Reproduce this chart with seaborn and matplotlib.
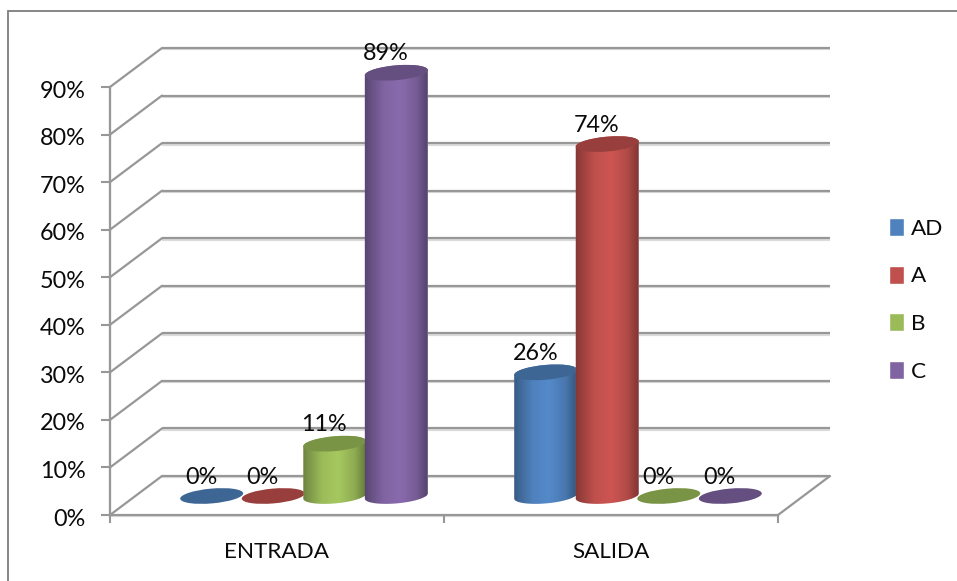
import numpy as np
import pandas as pd
import matplotlib
matplotlib.use("Agg")
import matplotlib.pyplot as plt
import matplotlib.patheffects as pe
from matplotlib.lines import Line2D
from matplotlib.patches import Polygon, Ellipse
from matplotlib.transforms import ScaledTranslation, IdentityTransform
import seaborn as sns

categories = ["ENTRADA", "SALIDA"]
series_names = ["AD", "A", "B", "C"]
series_ad = [0, 26]
series_a = [0, 74]
series_b = [11, 0]
series_c = [89, 0]
y_ticks = [0, 10, 20, 30, 40, 50, 60, 70, 80, 90]
colors = ["#4F81BD", "#C0504D", "#9BBB59", "#8064A2"]

df = pd.DataFrame({
    "cat": categories * 4,
    "serie": np.repeat(series_names, 2),
    "val": series_ad + series_a + series_b + series_c,
})

W, H, DPI = 957, 581, 100
sns.set_theme(style="ticks")
plt.rcParams["font.family"] = ["Lato", "DejaVu Sans"]
FS = 16.8
FS2 = 16.2
GRID = "#979797"
TXT = "#0a0a0a"
YMAX = 105

fig = plt.figure(figsize=(W / DPI, H / DPI), dpi=DPI, facecolor="white")
ax_h = 428 * YMAX / 90
ax = fig.add_axes([110 / W, (H - 515) / H, 668 / W, ax_h / H])
ax.set_facecolor("none")

sns.barplot(data=df, x="cat", y="val", hue="serie", hue_order=series_names,
            order=categories, palette=colors, saturation=1, width=0.737, gap=0,
            ax=ax, legend=True)
ax.set_xlim(-0.5, 1.5)
ax.set_ylim(0, YMAX)
ax.set_autoscale_on(False)
ax.set_xlabel("")
ax.set_ylabel("")
ax.set_yticks(y_ticks)
ax.set_yticklabels([f"{t}%" for t in y_ticks])
ax.set_xticks([-0.5, 0.5, 1.5], minor=True)
ax.tick_params(axis="x", which="major", length=0, pad=19.5, labelsize=FS2, labelcolor=TXT)
ax.tick_params(axis="x", which="minor", length=6, width=1.5, color=GRID)
ax.tick_params(axis="y", length=6.5, width=1.5, color=GRID, pad=11, labelsize=FS, labelcolor=TXT)
sns.despine(ax=ax)
ax.spines["left"].set_bounds(0, 90)
for s in ("left", "bottom"):
    ax.spines[s].set_color(GRID)
    ax.spines[s].set_linewidth(1.6)
    ax.spines[s].set_zorder(1)
    ax.spines[s].set_path_effects([pe.SimpleLineShadow(offset=(0, -1), shadow_color="#999999", alpha=0.35), pe.Normal()])

def shifted(dx, dy):
    return ax.transData + ScaledTranslation(dx / DPI, dy / DPI, fig.dpi_scale_trans)

for lbl in ax.get_yticklabels():
    lbl.set_transform(lbl.get_transform() + ScaledTranslation(0, -2 / DPI, fig.dpi_scale_trans))

# back wall, side wall and floor
back = shifted(52, 39)
shadow = [pe.SimpleLineShadow(offset=(0, -1), shadow_color="#999999", alpha=0.35), pe.Normal()]
ax.hlines(y_ticks, -0.5, 1.5, colors=GRID, linewidth=1.6, transform=back,
          zorder=0.5, clip_on=False, path_effects=shadow)
fig.canvas.draw()
for x, y in [(-0.5, t) for t in y_ticks] + [(1.5, 0)]:
    p0 = ax.transData.transform((x, y))
    p1 = back.transform((x, y))
    ax.add_line(Line2D([p0[0], p1[0]], [p0[1], p1[1]], color=GRID, lw=1.6,
                       transform=IdentityTransform(), zorder=0.6, clip_on=False))

# cylinders
base = shifted(27.0, 19)
A, B, THETA = 31.6, 7.4, np.deg2rad(5)

def ring(cx, cy, t):
    return np.c_[cx + A * np.cos(t) * np.cos(THETA) - B * np.sin(t) * np.sin(THETA),
                 cy + A * np.cos(t) * np.sin(THETA) + B * np.sin(t) * np.cos(THETA)]

def shade(hex_color, f):
    return np.array(matplotlib.colors.to_rgb(hex_color)) * f

xs = np.linspace(0, 1, 128)
profile = np.interp(xs, [0, 0.08, 0.3, 0.55, 0.8, 1], [0.68, 0.78, 1.0, 1.07, 0.92, 0.62])
z = 2.0
bars = []
for i, cont in enumerate(ax.containers):
    for bar in cont:
        bars.append((bar.get_x(), i, bar))
bars.sort(key=lambda b: b[0])
for _, i, bar in bars:
    col = colors[i]
    xc = bar.get_x() + bar.get_width() / 2
    val = bar.get_height()
    lo = base.transform((xc, 0))
    hi = base.transform((xc, val))
    z += 1
    if val > 0:
        t1 = np.linspace(np.pi, 2 * np.pi, 60)
        t2 = np.linspace(0, np.pi, 60)
        outline = np.vstack([ring(lo[0], lo[1], t1), ring(hi[0], hi[1], t2)])
        sil = Polygon(outline, closed=True, transform=IdentityTransform(), fc="none", ec="none")
        ax.add_patch(sil)
        sil.set_clip_on(False)
        bar.set_transform(base)
        bar.set_clip_path(sil)
        bar.set_zorder(z)
        grad = np.clip(profile[None, :, None] * np.array(matplotlib.colors.to_rgb(col))[None, None, :], 0, 1)
        im = ax.imshow(grad, aspect="auto", origin="lower", interpolation="bilinear",
                       extent=(lo[0] - A - 1, lo[0] + A + 1, lo[1] - 14, hi[1] + 14),
                       transform=IdentityTransform(), zorder=z + 0.1)
        im.set_clip_path(sil)
    ax.add_patch(Ellipse(hi, 2 * A, 2 * B, angle=np.rad2deg(THETA), fc=shade(col, 0.79), ec="none",
                         transform=IdentityTransform(), zorder=z + 0.2, clip_on=False))

# data labels
lab = shifted(16.5, 19 + 19)
for _, i, bar in bars:
    xc = bar.get_x() + bar.get_width() / 2
    ax.text(xc, bar.get_height(), f"{bar.get_height():.0f}%", transform=lab, ha="center", va="center",
            fontsize=FS, color=TXT, zorder=50, clip_on=False)

# legend
sns.move_legend(ax, "center left", bbox_to_anchor=(889 / W, (H - 300) / H),
                bbox_transform=fig.transFigure, frameon=False, title=None, fontsize=FS2,
                handlelength=0.66, handleheight=0.85, handletextpad=0.3, labelspacing=1.2, borderpad=0, borderaxespad=0)
for t in ax.get_legend().get_texts():
    t.set_color(TXT)

# outer frame
fy = 1 - 11 / H
fx = 8 / W
fig.add_artist(Line2D([fx, 1], [fy, fy], color="#868686", lw=1.4, transform=fig.transFigure))
fig.add_artist(Line2D([fx, fx], [0, fy], color="#868686", lw=1.4, transform=fig.transFigure))

fig.savefig("out.png", dpi=DPI, facecolor="white")
